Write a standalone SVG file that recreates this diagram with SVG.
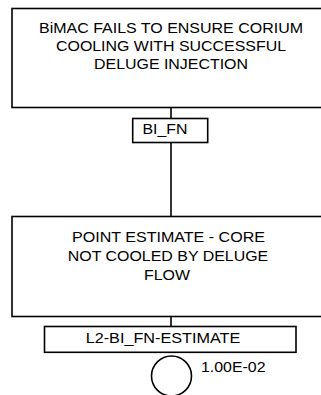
<svg xmlns="http://www.w3.org/2000/svg" width="321" height="395" viewBox="0 0 321 395">
<style>
.box{fill:#fff;stroke:#000;stroke-width:1.6}
.ln{stroke:#000;stroke-width:1.6;fill:none}
text{font-family:"Liberation Sans",Arial,sans-serif;font-size:14.2px;fill:#000}
.c{text-anchor:middle}
</style>
<rect width="321" height="395" fill="#fff"/>
<g id="connectors">
<line class="ln" x1="171" y1="107.5" x2="171" y2="118.5"/>
<line class="ln" x1="171" y1="142.5" x2="171" y2="216.5"/>
<line class="ln" x1="171" y1="316.5" x2="171" y2="326.5"/>
</g>
<g id="gate-top">
<rect class="box" x="12" y="8.5" width="330" height="99"/>
<text class="c" x="171" y="33" textLength="264" lengthAdjust="spacingAndGlyphs">BiMAC FAILS TO ENSURE CORIUM</text>
<text class="c" x="171" y="51" textLength="230" lengthAdjust="spacingAndGlyphs">COOLING WITH SUCCESSFUL</text>
<text class="c" x="171" y="69.3" textLength="154" lengthAdjust="spacingAndGlyphs">DELUGE INJECTION</text>
</g>
<g id="label-BI_FN">
<rect class="box" x="132.7" y="118.5" width="75" height="24"/>
<text class="c" x="165" y="133.5" textLength="45" lengthAdjust="spacingAndGlyphs">BI_FN</text>
</g>
<g id="event-estimate">
<rect class="box" x="12" y="216.5" width="330" height="100"/>
<text class="c" x="168.5" y="242.3" textLength="193" lengthAdjust="spacingAndGlyphs">POINT ESTIMATE - CORE</text>
<text class="c" x="168" y="261" textLength="200.5" lengthAdjust="spacingAndGlyphs">NOT COOLED BY DELUGE</text>
<text class="c" x="167" y="280" textLength="46" lengthAdjust="spacingAndGlyphs">FLOW</text>
</g>
<g id="label-L2">
<rect class="box" x="44.5" y="326.5" width="251.5" height="25.8"/>
<text class="c" x="163" y="343.3" textLength="154.6" lengthAdjust="spacingAndGlyphs">L2-BI_FN-ESTIMATE</text>
</g>
<g id="basic-event">
<circle class="box" cx="171.5" cy="376" r="20"/>
<text x="201" y="371.7" textLength="64.5" lengthAdjust="spacingAndGlyphs">1.00E-02</text>
</g>
</svg>
